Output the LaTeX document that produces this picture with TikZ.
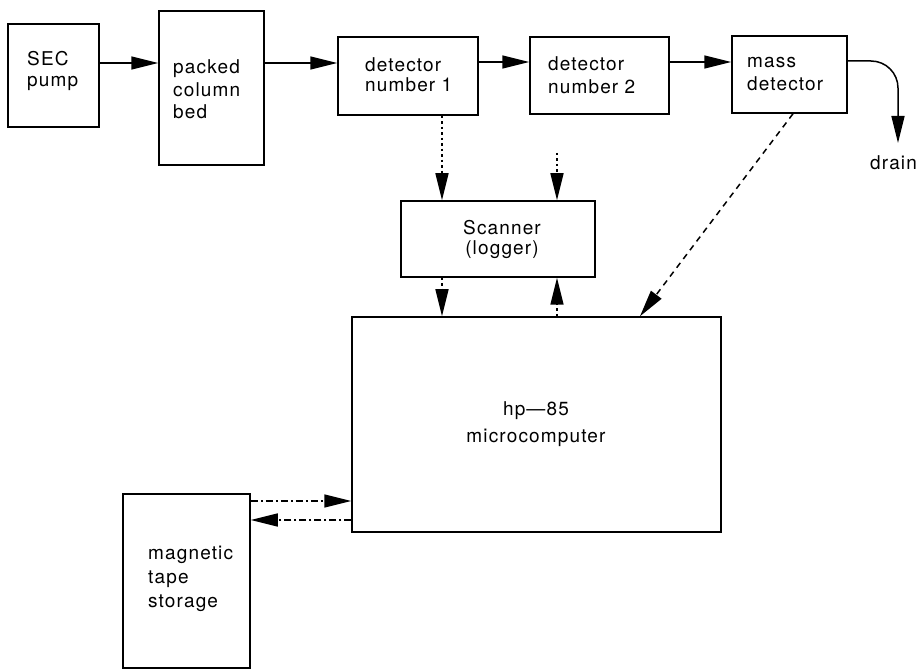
\documentclass[tikz,border=0pt]{standalone}
\usepackage{fontspec}
\setmainfont{TeX Gyre Heros}[LetterSpace=6]
\usetikzlibrary{arrows.meta}
\begin{document}
\begin{tikzpicture}[x=1pt,y=-1pt,
  box/.style={draw, line width=1.5pt, rectangle, inner sep=0pt},
  lbl/.style={inner sep=0pt, font=\fontsize{19}{22}\selectfont, align=left, anchor=base west},
  clbl/.style={inner sep=0pt, font=\fontsize{19}{26}\selectfont, align=center, anchor=base},
  arr/.style={line width=1.5pt, -{Triangle[length=27pt,width=13pt]}},
  dotarr/.style={arr, dash pattern=on 2.5pt off 3pt},
  dasharr/.style={arr, dash pattern=on 6pt off 5pt},
  dasharrb/.style={arr, dash pattern=on 7pt off 3pt on 2pt off 3pt}
]
\useasboundingbox (0,0) rectangle (919,671);

% boxes
\node[box, minimum width=91pt,  minimum height=103pt] (sec)  at (53.5,75.5) {};
\node[box, minimum width=105pt, minimum height=154pt] (pack) at (211.5,88) {};
\node[box, minimum width=140pt, minimum height=78pt]  (det1) at (408,76) {};
\node[box, minimum width=139pt, minimum height=77pt]  (det2) at (599.5,75.5) {};
\node[box, minimum width=115pt, minimum height=77pt]  (mass) at (789.5,74.5) {};
\node[box, minimum width=194pt, minimum height=76pt]  (scan) at (498,239) {};
\node[box, minimum width=369pt, minimum height=215pt] (hp)   at (536.5,424.5) {};
\node[box, minimum width=127pt, minimum height=174pt] (tape) at (186.5,581) {};

% texts (anchor = baseline of last line)
\node[lbl,font=\fontsize{19}{21}\selectfont] (secT)  at (27,87)  {SEC\\pump};
\node[lbl,font=\fontsize{19}{22.5}\selectfont] (packT) at (173,119) {packed\\column\\bed};
\node[lbl,font=\fontsize{19}{20.5}\selectfont] (det1T) at (365,92) {detector\\number 1};
\node[lbl,font=\fontsize{19}{23.5}\selectfont] (det2T) at (548,94) {detector\\number 2};
\node[lbl,font=\fontsize{19}{23.5}\selectfont] (massT) at (747,91) {mass\\detector};
\node[clbl,font=\fontsize{19}{20.5}\selectfont] (scanT) at (502,255) {Scanner\\(logger)};
\node[clbl,font=\fontsize{19}{27}\selectfont] (hpT)   at (536,442) {hp---85\\microcomputer};
\node[lbl,font=\fontsize{19}{24}\selectfont] (tapeT) at (148,607) {magnetic\\tape\\storage};
\node[lbl] (drain) at (870,170) {drain};

% helper coordinates
\coordinate (fa) at (0,63);
\coordinate (fb) at (0,62);
\coordinate (fc) at (0,61);
\coordinate (xa) at (442,0);
\coordinate (xb) at (557,0);
\coordinate (xm) at (793,0);
\coordinate (xh) at (640,0);
\coordinate (ya) at (0,501);
\coordinate (yb) at (0,520);
\coordinate (s2top) at (557,153);
\coordinate (drainend) at (898,143);

% flow
\draw[arr] (sec.east |- fa) -- (pack.west |- fa);
\draw[arr] (pack.east |- fa) -- (det1.west |- fa);
\draw[arr] (det1.east |- fb) -- (det2.west |- fb);
\draw[arr] (det2.east |- fb) -- (mass.west |- fb);
\draw[arr, rounded corners=27pt] (mass.east |- fc) -| (drainend);

% signals
\draw[dotarr] (det1.south -| xa) -- (scan.north -| xa);
\draw[dotarr] (s2top) -- (scan.north -| xb);
\draw[dotarr] (scan.south -| xa) -- (hp.north -| xa);
\draw[dotarr] (hp.north -| xb) -- (scan.south -| xb);
\draw[dasharr] (mass.south -| xm) -- (hp.north -| xh);
\draw[dasharrb] (tape.east |- ya) -- (hp.west |- ya);
\draw[dasharrb] (hp.west |- yb) -- (tape.east |- yb);
\end{tikzpicture}
\end{document}
